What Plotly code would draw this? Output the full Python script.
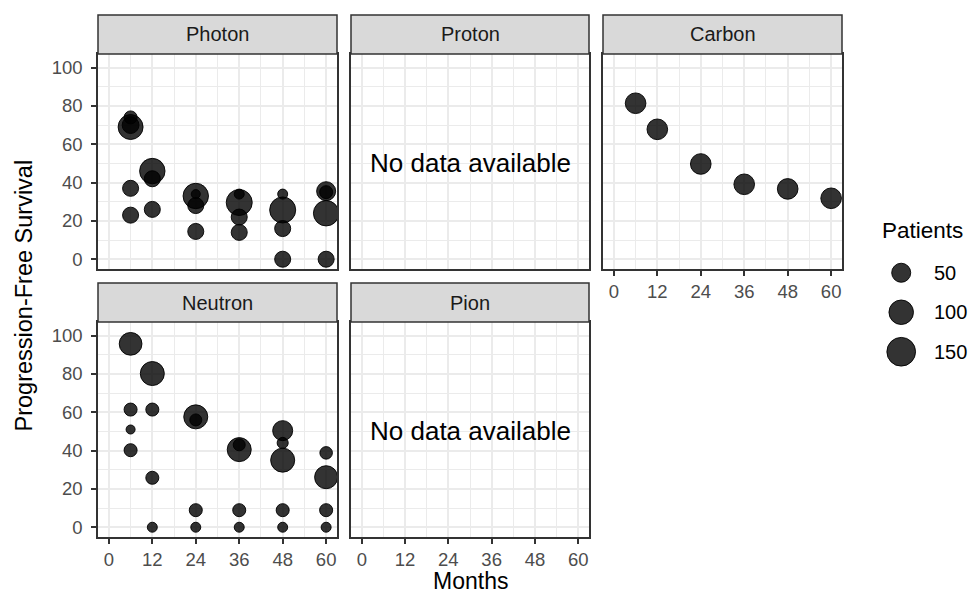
import numpy as np
import plotly.graph_objects as go

W, H = 968, 594

# ---------------- data ----------------
panel_names = ["Photon", "Proton", "Carbon", "Neutron", "Pion"]

photon_months = [6, 6, 6, 6, 6, 12, 12, 12, 24, 24, 24, 24, 36, 36, 36, 36, 48, 48, 48, 48, 60, 60, 60, 60]
photon_pfs = [74, 70, 69, 37, 23, 46, 42, 26, 33, 34, 28, 14.5, 29.6, 34, 22, 14, 34, 25.7, 16, 0, 35.5, 35, 24, 0]
photon_patients = [15, 35, 105, 30, 30, 110, 30, 30, 110, 3, 30, 30, 117, 5, 30, 30, 5, 117, 30, 30, 50, 15, 110, 30]

neutron_months = [6, 6, 6, 6, 12, 12, 12, 12, 24, 24, 24, 24, 36, 36, 36, 36, 48, 48, 48, 48, 48, 60, 60, 60, 60]
neutron_pfs = [95.7, 61.4, 51, 40.2, 80.2, 61.4, 25.8, 0, 57.6, 56, 8.9, 0, 40.5, 43, 8.9, 0, 50.4, 44, 35, 8.9, 0, 38.8, 26.1, 8.9, 0]
neutron_patients = [82, 15, 3, 15, 95, 15, 15, 5, 95, 11, 15, 5, 95, 11, 15, 5, 58, 8, 95, 15, 5, 13, 85, 15, 5]

carbon_months = [6, 12, 24, 36, 48, 60]
carbon_pfs = [81.4, 67.8, 49.7, 39.1, 36.7, 31.8]
carbon_patients = [63, 63, 63, 63, 63, 63]

x_ticks = [0, 12, 24, 36, 48, 60]
x_minor = [6, 18, 30, 42, 54]
y_ticks = [0, 20, 40, 60, 80, 100]
y_minor = [10, 30, 50, 70, 90]
legend_values = [50, 100, 150]
no_data_text = "No data available"

# ---------------- styling ----------------
FONT = "Liberation Sans, Arial, sans-serif"
GRID = "#ebebeb"
BORDER = "#333333"


def diam(p):
    p = np.asarray(p, dtype=float)
    return 6.8 + 1.87 * np.sqrt(p) - 1.0


def px_x(x):
    return x / W


def px_y(y):
    return 1 - y / H


cols = [(98, 337), (351, 589), (603, 842)]
rows = [(54, 269), (322, 537)]
panel_pos = [(0, 0), (0, 1), (0, 2), (1, 0), (1, 1)]

fig = go.Figure()
layout = dict(
    width=W, height=H, margin=dict(l=0, r=0, t=0, b=0),
    paper_bgcolor="white", plot_bgcolor="white", showlegend=False,
    font=dict(family=FONT),
)

show_x = {0: False, 1: False, 2: True, 3: True, 4: True}
show_y = {0: True, 1: False, 2: False, 3: True, 4: False}

shapes = []
annotations = []
for i, (r, c) in enumerate(panel_pos):
    n = "" if i == 0 else str(i + 1)
    x0, x1 = cols[c]
    y0, y1 = rows[r]
    layout["xaxis" + n] = dict(
        domain=[px_x(x0), px_x(x1)], range=[-3, 63], anchor="y" + n,
        tickmode="array", tickvals=x_ticks, ticktext=[str(v) for v in x_ticks],
        showgrid=True, gridcolor=GRID, gridwidth=2,
        minor=dict(tickvals=x_minor, showgrid=True, gridcolor=GRID, gridwidth=1.1, ticks=""),
        zeroline=False, showline=True, mirror=True, linecolor=BORDER, linewidth=1.5,
        ticks="outside" if show_x[i] else "", ticklen=5, tickwidth=1.5, tickcolor=BORDER,
        showticklabels=show_x[i], tickfont=dict(size=18.5, color="#4d4d4d", family=FONT),
        ticklabelstandoff=0, fixedrange=True,
    )
    layout["yaxis" + n] = dict(
        domain=[px_y(y1), px_y(y0)], range=[-5.1, 107.1], anchor="x" + n,
        tickmode="array", tickvals=y_ticks, ticktext=[str(v) for v in y_ticks],
        showgrid=True, gridcolor=GRID, gridwidth=2,
        minor=dict(tickvals=y_minor, showgrid=True, gridcolor=GRID, gridwidth=1.1, ticks=""),
        zeroline=False, showline=True, mirror=True, linecolor=BORDER, linewidth=1.5,
        ticks="outside" if show_y[i] else "", ticklen=5, tickwidth=1.5, tickcolor=BORDER,
        showticklabels=show_y[i], tickfont=dict(size=18.5, color="#4d4d4d", family=FONT),
        ticklabelstandoff=5, fixedrange=True,
    )
    # strip
    sy0, sy1 = (15, 54) if r == 0 else (283, 322)
    shapes.append(dict(type="rect", xref="paper", yref="paper",
                       x0=px_x(x0), x1=px_x(x1), y0=px_y(sy1), y1=px_y(sy0),
                       fillcolor="#d9d9d9", line=dict(color=BORDER, width=1.5), layer="above"))
    annotations.append(dict(text=panel_names[i], xref="paper", yref="paper",
                            x=px_x((x0 + x1) / 2), y=px_y((sy0 + sy1) / 2),
                            showarrow=False, xanchor="center", yanchor="middle",
                            font=dict(size=20, color="#1a1a1a", family=FONT)))


def add_points(months, pfs, patients, n):
    fig.add_trace(go.Scatter(
        x=months, y=pfs, mode="markers", xaxis="x" + n, yaxis="y" + n,
        marker=dict(size=diam(patients), sizemode="diameter", opacity=1,
                    color="rgba(0,0,0,0.8)", line=dict(color="rgba(0,0,0,0.9)", width=1)),
        hoverinfo="skip", cliponaxis=True,
    ))


add_points(photon_months, photon_pfs, photon_patients, "")
add_points(carbon_months, carbon_pfs, carbon_patients, "3")
add_points(neutron_months, neutron_pfs, neutron_patients, "4")

for n in ["2", "5"]:
    annotations.append(dict(text=no_data_text, xref="x" + n, yref="y" + n, x=30, y=50,
                            showarrow=False, xanchor="center", yanchor="middle",
                            font=dict(size=26, color="black", family=FONT)))

# axis titles
annotations.append(dict(text="Months", xref="paper", yref="paper", x=px_x(470), y=px_y(581),
                        showarrow=False, xanchor="center", yanchor="middle",
                        font=dict(size=23, color="black", family=FONT)))
annotations.append(dict(text="Progression-Free Survival", xref="paper", yref="paper",
                        x=px_x(24), y=px_y(295.5), textangle=-90,
                        showarrow=False, xanchor="center", yanchor="middle",
                        font=dict(size=23.5, color="black", family=FONT)))

# size legend (own hidden axes)
layout["xaxis6"] = dict(domain=[0.9, 0.962], range=[-1, 1], visible=False, fixedrange=True, anchor="y6")
layout["yaxis6"] = dict(domain=[px_y(371.5), px_y(253)], range=[2.5, -0.5], visible=False,
                        fixedrange=True, anchor="x6")
leg_idx = list(range(len(legend_values)))
fig.add_trace(go.Scatter(
    x=[0] * len(legend_values), y=leg_idx, mode="markers", xaxis="x6", yaxis="y6",
    marker=dict(size=diam(legend_values), sizemode="diameter", opacity=1,
                color="rgba(0,0,0,0.8)", line=dict(color="rgba(0,0,0,0.9)", width=1)),
    hoverinfo="skip", cliponaxis=False,
))
for k, v in zip(leg_idx, legend_values):
    annotations.append(dict(text=str(v), xref="paper", yref="y6", x=px_x(932), y=k,
                            showarrow=False, xanchor="left", yanchor="middle",
                            font=dict(size=20, color="black", family=FONT)))
annotations.append(dict(text="Patients", xref="paper", yref="paper", x=px_x(880), y=px_y(231),
                        showarrow=False, xanchor="left", yanchor="middle",
                        font=dict(size=22.5, color="black", family=FONT)))

layout["shapes"] = shapes
layout["annotations"] = annotations
fig.update_layout(**layout)
fig.write_html("out.html")
